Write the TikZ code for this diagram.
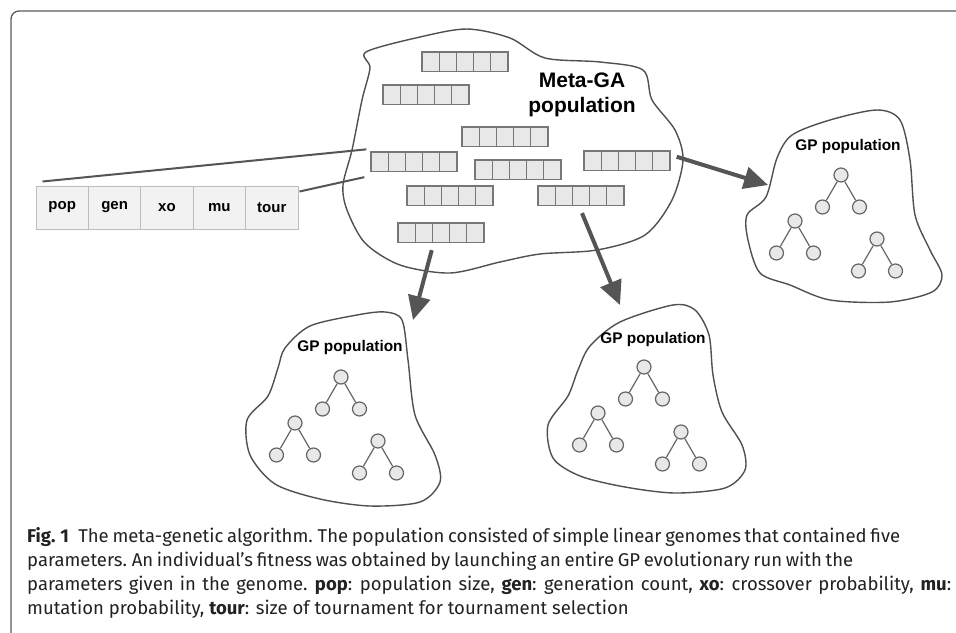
\documentclass[tikz,border=0pt]{standalone}
\usepackage{fontspec}
\usetikzlibrary{arrows.meta}

\newfontfamily\diagfont{Liberation Sans}
\newfontfamily\capfont{Fira Sans}

\definecolor{lineDark}{HTML}{555555}
\definecolor{blobDraw}{HTML}{505050}
\definecolor{cellDraw}{HTML}{777777}
\definecolor{cellFill}{HTML}{E8E8E8}
\definecolor{tabDraw}{HTML}{BBBBBB}
\definecolor{tabFill}{HTML}{F2F2F2}
\definecolor{treeDraw}{HTML}{666666}
\definecolor{frameDraw}{HTML}{5A5A5A}
\definecolor{capText}{HTML}{222222}

\newcommand{\genome}[3]{%
    \foreach \k in {1,...,5}
        \node [cell] (#1-\k) at ({#2 + (\k - 0.5) * 17.2}, {#3 + 9.75}) {};
}

\newcommand{\gptree}[3]{%
    \path
        (#2, #3) node [leaf] (#1-r) {}
        ({#2 - 18.5}, {#3 + 32}) node [leaf] (#1-a) {}
        ({#2 + 18.5}, {#3 + 32}) node [leaf] (#1-b) {}

        (#1-r) edge [branch] (#1-a)
        (#1-r) edge [branch] (#1-b)
    ;
}

\newcommand{\capline}[2]{%
    \hbox to #1{\spaceskip=0.24em plus 1em minus 0.07em\xspaceskip=0.3em plus 1em minus 0.07em\relax #2}%
}

\begin{document}
\begin{tikzpicture}[x = 1pt, y = -1pt,
        cell/.style = {draw = cellDraw, fill = cellFill, line width = 1.3pt,
            minimum width = 17.2pt, minimum height = 19.5pt, inner sep = 0pt},
        param/.style = {draw = tabDraw, fill = tabFill, line width = 1pt,
            minimum width = 52.4pt, minimum height = 43pt, inner sep = 0pt,
            font = \diagfont\bfseries\fontsize{15}{18}\selectfont},
        leaf/.style = {circle, draw = treeDraw, fill = cellFill, line width = 1.2pt,
            minimum size = 14pt, inner sep = 0pt},
        branch/.style = {draw = treeDraw, line width = 1.2pt},
        blob/.style = {draw = blobDraw, line width = 1.4pt},
        zoomline/.style = {draw = lineDark, line width = 2pt},
        jump/.style = {draw = lineDark, line width = 4pt,
            -{Triangle[length = 24pt, width = 22pt]}},
        title/.style = {font = \diagfont\bfseries\fontsize{15.4}{18}\selectfont},
        caption/.style = {anchor = base west, inner sep = 0pt, text = capText,
            font = \capfont\fontsize{18.5}{22}\selectfont}
    ]
        \useasboundingbox (0, 0) rectangle (956, 632);
        \fill [white] (0, 0) rectangle (956, 632);
        \draw [frameDraw, line width = 1.3pt, rounded corners = 8pt] (11, 11) rectangle (980, 660);

        % meta-GA population
        \draw [blob] plot [smooth cycle, tension = 0.5] coordinates {
            (366, 52) (420, 37) (467, 29) (510, 38) (545, 58) (600, 62) (643, 70)
            (652, 100) (675, 130) (683, 160) (672, 200) (645, 235) (597, 250)
            (540, 254) (500, 262) (450, 273) (400, 265) (365, 243) (347, 210)
            (343, 185) (352, 150) (362, 100) (370, 68)};
        \node [font = \diagfont\bfseries\fontsize{21}{25}\selectfont, align = center] (meta-title) at (582, 95) {Meta-GA\\population};

        \genome{g1}{422}{52}
        \genome{g2}{383}{85}
        \genome{g3}{462}{127}
        \genome{g4}{371}{152}
        \genome{g5}{475}{160}
        \genome{g6}{584}{151}
        \genome{g7}{407}{186}
        \genome{g8}{538}{186}
        \genome{g9}{398}{223}

        % genome parameters
        \foreach \t [count = \i] in {pop, gen, xo, mu, tour}
            \node [param] (param-\i) at ({62.2 + (\i - 1) * 52.4}, 207.5) {\t};

        \draw [zoomline] ([shift = {(7, -4)}]param-1.north west) -- ([shift = {(-4, -2)}]g4-1.north west);
        \draw [zoomline] ([shift = {(1, 6)}]param-5.north east) -- ([shift = {(-6, 5)}]g4-1.south west);

        % GP populations
        \draw [blob] plot [smooth cycle, tension = 0.5] coordinates {
            (777, 158) (792, 135) (830, 120) (877, 110) (900, 120)
            (910, 160) (915, 215) (930, 250) (942, 275) (932, 292)
            (890, 302) (830, 300) (790, 285) (760, 273) (748, 240)
            (747, 215) (766, 197)};
        \node [title] (gpR-title) at (848, 147) {GP population};
        \gptree{gpR1}{841}{175}
        \gptree{gpR2}{795}{221}
        \gptree{gpR3}{877}{239}
        \coordinate (gpR-in) at (768, 185);

        \draw [blob] plot [smooth cycle, tension = 0.5] coordinates {
            (285, 348) (310, 326) (357, 315) (385, 312) (402, 320)
            (408, 360) (415, 415) (435, 455) (440, 482) (420, 502)
            (370, 506) (320, 499) (275, 484) (250, 455) (247, 420)
            (268, 396) (278, 368)};
        \node [title] (gpL-title) at (350, 348) {GP population};
        \gptree{gpL1}{341}{377}
        \gptree{gpL2}{295}{423}
        \gptree{gpL3}{378}{441}
        \coordinate (gpL-in) at (413, 320);

        \draw [blob] plot [smooth cycle, tension = 0.5] coordinates {
            (590, 346) (620, 322) (673, 305) (695, 310) (709, 335)
            (713, 375) (722, 412) (742, 445) (745, 470) (725, 488)
            (675, 493) (625, 487) (580, 476) (553, 458) (548, 425)
            (568, 396) (578, 370)};
        \node [title] (gpM-title) at (653, 340) {GP population};
        \gptree{gpM1}{644}{367}
        \gptree{gpM2}{598}{413}
        \gptree{gpM3}{681}{432}
        \coordinate (gpM-in) at (620, 305);

        \draw [jump] ([shift = {(6, -4)}]g6-5.east) -- (gpR-in);
        \draw [jump] ([shift = {(0, 7)}]g9-3.south west) -- (gpL-in);
        \draw [jump] ([shift = {(1, 7)}]g8-3.south) -- (gpM-in);

        % caption
        \node [caption] (cap1) at (27, 542) {\capline{873pt}{\textbf{Fig. 1}\hspace{0.5em}The meta-genetic algorithm. The population consisted of simple linear genomes that contained five}};
        \node [caption] (cap2) at (27, 566) {\capline{826pt}{parameters. An individual’s fitness was obtained by launching an entire GP evolutionary run with the}};
        \node [caption] (cap3) at (27, 590) {\capline{924pt}{parameters given in the genome. \textbf{pop}: population size, \textbf{gen}: generation count, \textbf{xo}: crossover probability, \textbf{mu}:}};
        \node [caption] (cap4) at (27, 614) {mutation probability, \textbf{tour}: size of tournament for tournament selection};
    \end{tikzpicture}
\end{document}
